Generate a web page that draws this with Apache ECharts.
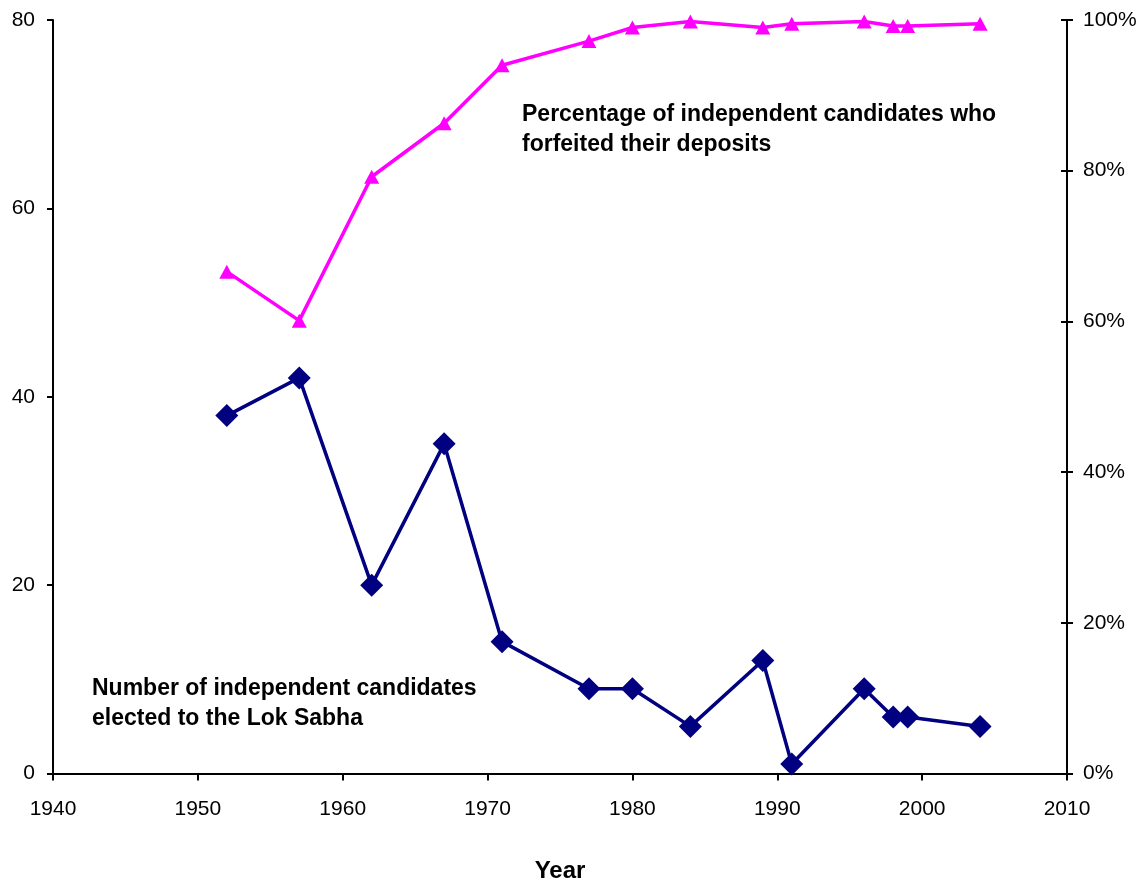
<!DOCTYPE html>
<html>
<head>
<meta charset="utf-8">
<script src="https://cdn.jsdelivr.net/npm/echarts@6/dist/echarts.min.js"></script>
<style>
  html, body { margin: 0; padding: 0; background: #fff; }
  #chart { width: 1143px; height: 882px; }
</style>
</head>
<body>
<div id="chart"></div>
<script>
// Lok Sabha general election years
const years = [1952, 1957, 1962, 1967, 1971, 1977, 1980, 1984, 1989, 1991, 1996, 1998, 1999, 2004];
// Independent candidates elected to the Lok Sabha
const elected = [38, 42, 20, 35, 14, 9, 9, 5, 12, 1, 9, 6, 6, 5];
// Share of independent candidates who forfeited their deposits (%)
const forfeitedPct = [66.6, 60.1, 79.2, 86.3, 94.0, 97.2, 99.0, 99.8, 99.0, 99.5, 99.8, 99.2, 99.2, 99.5];

const FONT = '"Liberation Sans", Arial, sans-serif';
const pairs = (xs, ys) => xs.map((x, i) => [x, ys[i]]);

const chart = echarts.init(document.getElementById('chart'), null, { renderer: 'canvas' });

const axisLineStyle = { show: true, lineStyle: { color: '#000', width: 2 } };

chart.setOption({
  animation: false,
  backgroundColor: '#fff',
  grid: { left: 53, right: 76, top: 20, bottom: 108.5, containLabel: false, outerBoundsMode: 'none' },
  xAxis: {
    type: 'value',
    min: 1940, max: 2010, interval: 10,
    name: 'Year',
    nameLocation: 'middle',
    nameGap: 86,
    nameTextStyle: { fontFamily: FONT, fontSize: 24, fontWeight: 'bold', color: '#000' },
    axisLine: axisLineStyle,
    axisTick: { show: true, length: 7, lineStyle: { color: '#000', width: 2 } },
    axisLabel: { fontFamily: FONT, fontSize: 21, color: '#000', margin: 25, formatter: v => String(v) },
    splitLine: { show: false }
  },
  yAxis: [
    {
      type: 'value', position: 'left',
      min: 0, max: 80, interval: 20,
      axisLine: axisLineStyle,
      axisTick: { show: true, length: 6, lineStyle: { color: '#000', width: 2 } },
      axisLabel: { fontFamily: FONT, fontSize: 21, color: '#000', margin: 18 },
      splitLine: { show: false }
    },
    {
      type: 'value', position: 'right',
      min: 0, max: 100, interval: 20,
      axisLine: axisLineStyle,
      axisTick: { show: true, length: 6, lineStyle: { color: '#000', width: 2 } },
      axisLabel: { fontFamily: FONT, fontSize: 21, color: '#000', margin: 16, formatter: '{value}%' },
      splitLine: { show: false }
    },
    {
      // inner half of the crossing ticks on the percentage axis
      type: 'value', position: 'right',
      min: 0, max: 100, interval: 20,
      axisLine: { show: false },
      axisTick: { show: true, inside: true, length: 6, lineStyle: { color: '#000', width: 2 } },
      axisLabel: { show: false },
      splitLine: { show: false }
    }
  ],
  series: [
    {
      name: 'Percentage of independent candidates who forfeited their deposits',
      type: 'line',
      yAxisIndex: 1,
      data: pairs(years, forfeitedPct),
      symbol: 'triangle',
      symbolSize: [15, 14],
      lineStyle: { color: '#FF00FF', width: 3.5 },
      itemStyle: { color: '#FF00FF' },
      z: 3
    },
    {
      name: 'Number of independent candidates elected to the Lok Sabha',
      type: 'line',
      yAxisIndex: 0,
      data: pairs(years, elected),
      symbol: 'diamond',
      symbolSize: [23, 23],
      lineStyle: { color: '#000080', width: 3.5 },
      itemStyle: { color: '#000080' },
      z: 4
    }
  ],
  graphic: [
    {
      type: 'text', left: 522, top: 100,
      style: {
        text: 'Percentage of independent candidates who\nforfeited their deposits',
        fontFamily: FONT, fontSize: 23, fontWeight: 'bold', fill: '#000', lineHeight: 30
      }
    },
    {
      type: 'text', left: 92, top: 674,
      style: {
        text: 'Number of independent candidates\nelected to the Lok Sabha',
        fontFamily: FONT, fontSize: 23, fontWeight: 'bold', fill: '#000', lineHeight: 30
      }
    }
  ]
});
</script>
</body>
</html>
